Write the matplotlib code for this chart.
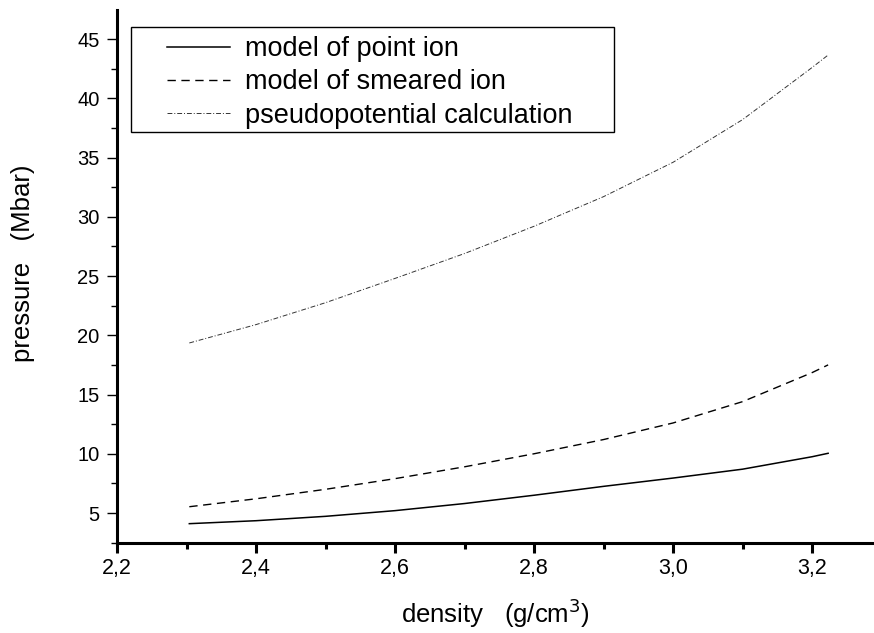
import matplotlib
matplotlib.use('Agg')
import matplotlib.pyplot as plt
from matplotlib.patches import Rectangle
from matplotlib.ticker import MultipleLocator, FuncFormatter

plt.rcParams['font.family'] = ['Liberation Sans', 'DejaVu Sans']

# density (g/cm^3)
density = [2.304, 2.40, 2.50, 2.60, 2.70, 2.80, 2.90, 3.00, 3.10, 3.20, 3.223]

# pressure (Mbar)
point_ion = [4.10, 4.35, 4.72, 5.20, 5.80, 6.50, 7.25, 7.95, 8.70, 9.75, 10.04]
smeared_ion = [5.53, 6.2, 7.0, 7.9, 8.9, 10.0, 11.2, 12.6, 14.4, 16.85, 17.5]
pseudo = [19.35, 20.9, 22.75, 24.8, 26.9, 29.2, 31.7, 34.6, 38.2, 42.6, 43.65]

labels = ['model of point ion', 'model of smeared ion', 'pseudopotential calculation']

#~~~~~~~~~~
# PLOTTING
#~~~~~~~~~~

fig = plt.figure(figsize=(8.74, 6.33), dpi=100)
ax = fig.add_axes([0.1339, 0.1422, 0.8661, 0.8420])

ax.plot(density, point_ion, color='black', lw=1.1, label=labels[0])
ax.plot(density, smeared_ion, color='black', lw=1.0, linestyle=(0, (6, 4)), label=labels[1])
ax.plot(density, pseudo, color='#333333', lw=0.7, linestyle=(0, (5, 2, 1, 2)), label=labels[2])

ax.set_xlim(2.2, 3.289)
ax.set_ylim(2.47, 47.45)

ax.spines['top'].set_visible(False)
ax.spines['right'].set_visible(False)
ax.spines['left'].set_linewidth(2.2)
ax.spines['bottom'].set_linewidth(2.2)

ax.xaxis.set_major_locator(MultipleLocator(0.2))
ax.xaxis.set_minor_locator(MultipleLocator(0.1))
ax.yaxis.set_major_locator(MultipleLocator(5))
ax.yaxis.set_minor_locator(MultipleLocator(2.5))

ax.xaxis.set_major_formatter(FuncFormatter(lambda v, p: ('%.1f' % v).replace('.', ',')))
ax.yaxis.set_major_formatter(FuncFormatter(lambda v, p: '%d' % round(v)))

ax.tick_params(axis='x', which='major', direction='out', length=7, width=2.2, labelsize=15.5, pad=3.5)
ax.tick_params(axis='x', which='minor', direction='out', length=4, width=2.2)
ax.tick_params(axis='y', which='major', direction='out', length=7.5, width=1.0, labelsize=14.5, pad=5)
ax.tick_params(axis='y', which='minor', direction='out', length=4, width=1.0)

ax.set_xlabel('density   (g/cm$^3$)', fontsize=18.5, labelpad=13)
ax.set_ylabel('pressure   (Mbar)', fontsize=18.5)
ax.yaxis.set_label_coords(-0.108, 0.524)

# legend without frame, box drawn separately
leg = ax.legend(loc='upper left', bbox_to_anchor=(0.066, 0.951), fontsize=19.5,
                frameon=False, handlelength=2.33, handletextpad=0.55,
                borderpad=0, labelspacing=0.27, borderaxespad=0)
ax.add_patch(Rectangle((0.0185, 0.771), 0.6381, 0.197, transform=ax.transAxes,
                       fill=False, edgecolor='black', lw=1.0, clip_on=False, zorder=5))

plt.savefig('out.png', dpi=100)
